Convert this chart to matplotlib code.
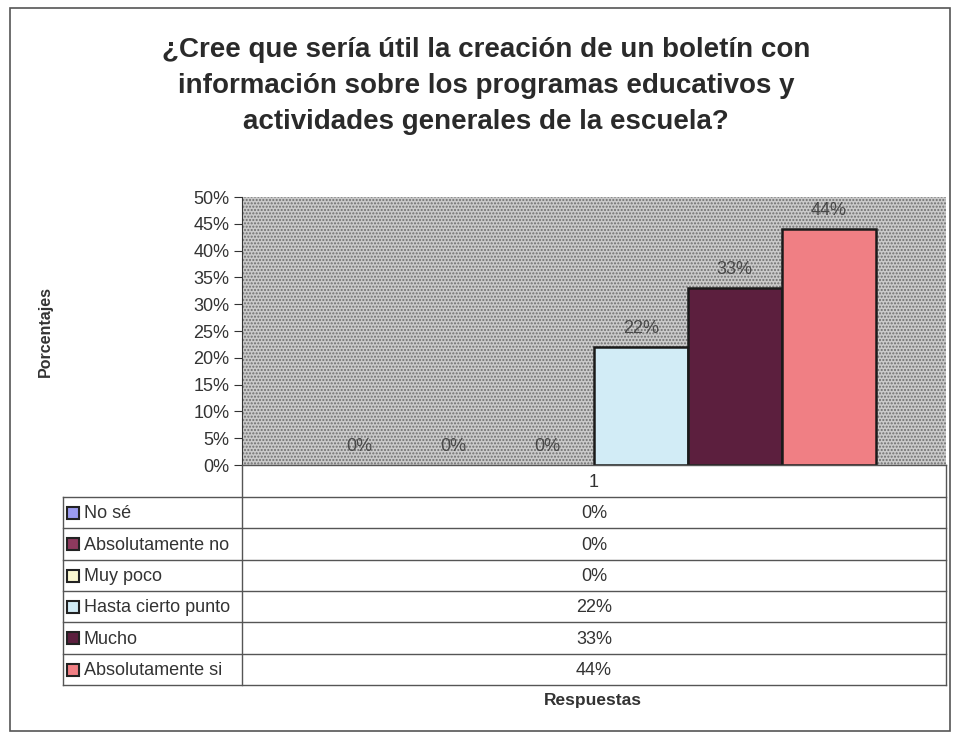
import numpy as np
import matplotlib.pyplot as plt
from matplotlib.patches import Rectangle

plt.rcParams['font.family'] = ['Liberation Sans', 'DejaVu Sans']

title = ("¿Cree que sería útil la creación de un boletín con\n"
         "información sobre los programas educativos y\n"
         "actividades generales de la escuela?")
categories = ['No sé', 'Absolutamente no', 'Muy poco',
              'Hasta cierto punto', 'Mucho', 'Absolutamente si']
values = [0, 0, 0, 22, 33, 44]  # percent
colors = ['#9b9bf0', '#8e3a5e', '#fbf8d0', '#d2ecf6', '#5c1f3e', '#f07f84']
group_label = '1'
yticks = np.arange(0, 55, 5)

W, H = 956, 737
fig = plt.figure(figsize=(W / 100, H / 100), dpi=100)


def fx(px):
    return px / W


def fy(py):
    return 1 - py / H


# outer frame
fig.patches.append(Rectangle((fx(10), fy(731)), fx(940), 723 / H,
                             transform=fig.transFigure, fill=False,
                             edgecolor='#555555', lw=1.2))

fig.text(fx(486), fy(86), title, ha='center', va='center',
         fontsize=20, fontweight='bold', color='#2a2a2a', linespacing=1.52)

# plot area
x0, x1, ytop, ybot = 242, 946, 197, 465
ax = fig.add_axes([fx(x0), fy(ybot), fx(x1 - x0), (ybot - ytop) / H])
ax.add_patch(Rectangle((0, 0), 1, 1, transform=ax.transAxes,
                       facecolor='#cacaca', hatch='.....',
                       edgecolor='#6e6e6e', lw=0, zorder=0))

n = len(values)
bar_w = 1.0
gap = 0.75
x = np.arange(n) * bar_w + gap
ax.bar(x, values, width=bar_w, align='edge', color=colors,
       edgecolor='#1a1a1a', linewidth=[1.8 if v > 0 else 0 for v in values],
       zorder=2)
for xi, v in zip(x, values):
    ax.text(xi + bar_w / 2, v + 1.9, f'{v}%', ha='center', va='bottom',
            fontsize=13, color='#4a4a4a', zorder=3)

ax.set_xlim(0, n * bar_w + 2 * gap)
ax.set_ylim(0, 50)
ax.set_yticks(yticks)
ax.set_yticklabels([f'{t}%' for t in yticks], fontsize=13, color='#333333')
ax.set_xticks([])
for s in ['top', 'right', 'bottom']:
    ax.spines[s].set_visible(False)
ax.spines['left'].set_color('#333333')
ax.tick_params(axis='y', length=6, color='#333333', pad=3)

fig.text(fx(45), fy(331), 'Porcentajes', rotation=90, ha='center',
         va='center', fontsize=11.5, fontweight='bold', color='#333333')

# data table below the plot
tl, tr = 63, 946
row_edges = [497, 528, 560, 591, 622, 654, 685]
tab = fig.add_axes([0, 0, 1, 1], facecolor='none')
tab.set_xlim(0, W)
tab.set_ylim(H, 0)
tab.axis('off')
lc = '#555555'
tab.plot([x0, x0], [ybot, row_edges[-1]], color=lc, lw=1)
tab.plot([tr, tr], [ybot, row_edges[-1]], color=lc, lw=1)
tab.plot([tl, tl], [row_edges[0], row_edges[-1]], color=lc, lw=1)
tab.plot([x0, tr], [ybot, ybot], color=lc, lw=1)
for y in row_edges:
    tab.plot([tl, tr], [y, y], color=lc, lw=1)
tab.text((x0 + tr) / 2, (ybot + row_edges[0]) / 2 + 1, group_label,
         ha='center', va='center', fontsize=13, color='#333333')
for i, (cat, v, c) in enumerate(zip(categories, values, colors)):
    yc = (row_edges[i] + row_edges[i + 1]) / 2
    tab.add_patch(Rectangle((67, yc - 6), 12, 12, facecolor=c,
                            edgecolor='#222222', lw=1.5))
    tab.text(84, yc + 1, cat, ha='left', va='center', fontsize=13,
             color='#333333')
    tab.text((x0 + tr) / 2, yc + 1, f'{v}%', ha='center', va='center',
             fontsize=13, color='#333333')

fig.text(fx(593), fy(701), 'Respuestas', ha='center', va='center',
         fontsize=12.5, fontweight='bold', color='#333333')

fig.savefig('out.png', dpi=100)
